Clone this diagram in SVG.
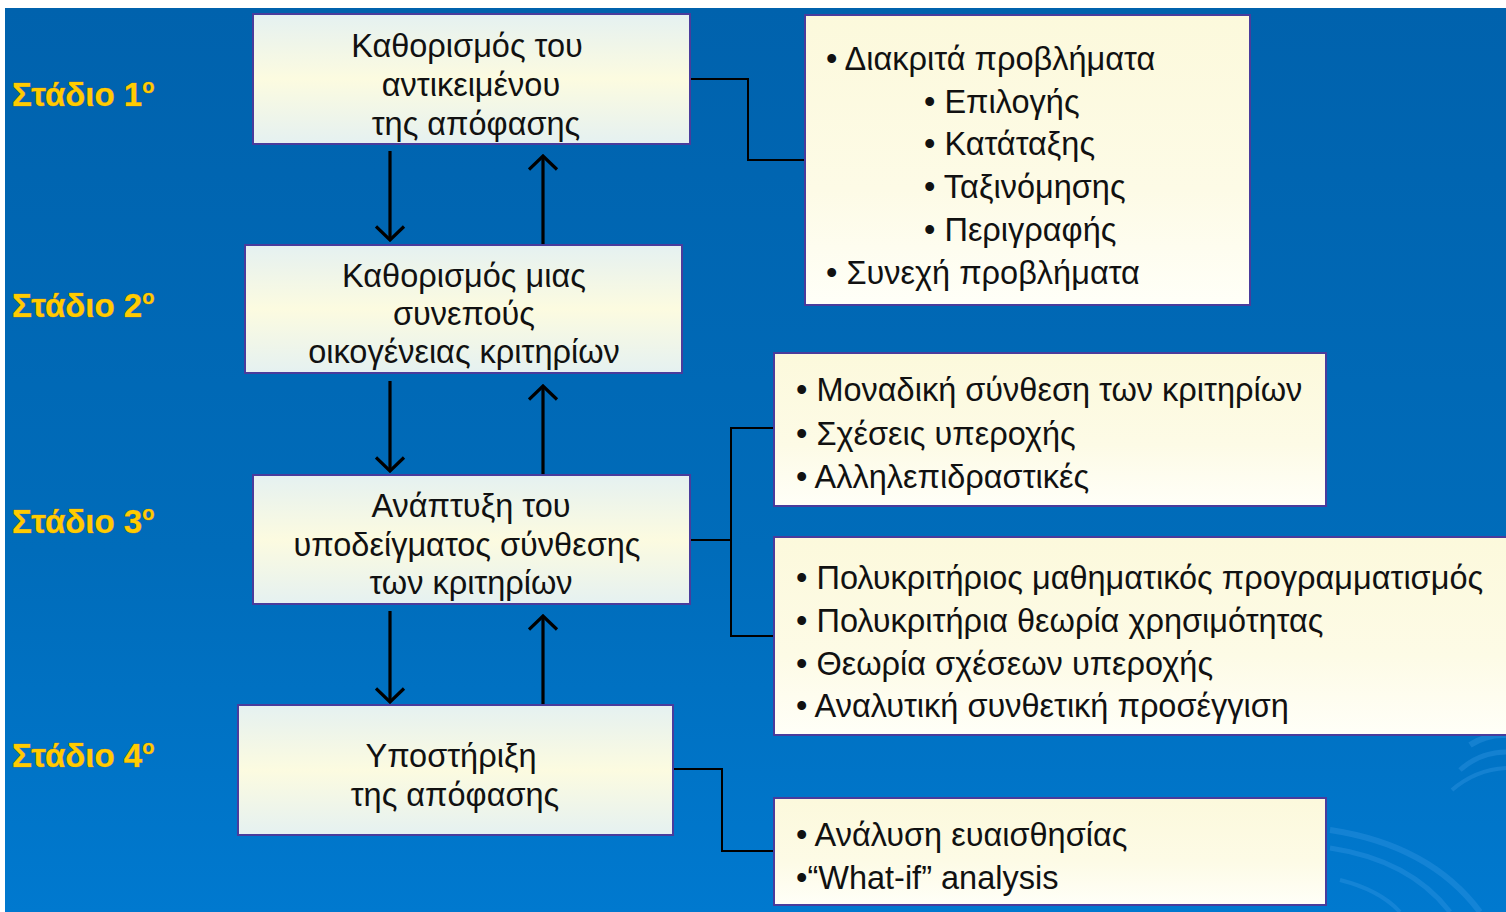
<svg xmlns="http://www.w3.org/2000/svg" width="1506" height="912" viewBox="0 0 1506 912">
  <defs>
    <linearGradient id="bg" x1="0" y1="0" x2="0" y2="1">
      <stop offset="0" stop-color="#0062ad"/>
      <stop offset="0.6" stop-color="#006cba"/>
      <stop offset="1" stop-color="#0079cf"/>
    </linearGradient>
    <linearGradient id="stageFill" x1="0" y1="0" x2="0" y2="1">
      <stop offset="0" stop-color="#e5f1f1"/>
      <stop offset="0.5" stop-color="#fcfbe0"/>
      <stop offset="1" stop-color="#e5f1f1"/>
    </linearGradient>
    <linearGradient id="noteFill" x1="0" y1="0" x2="0" y2="1">
      <stop offset="0" stop-color="#fcf9dc"/>
      <stop offset="0.6" stop-color="#fdfbe6"/>
      <stop offset="1" stop-color="#fffff8"/>
    </linearGradient>
    <!-- open chevron head, drawn pointing along +x -->
    <marker id="chev" viewBox="0 0 17 31" refX="15" refY="15.5" markerWidth="17" markerHeight="31" markerUnits="userSpaceOnUse" orient="auto">
      <path d="M1.5,1.5 L15,15.5 L1.5,29.5" fill="none" stroke="#000" stroke-width="3.2" stroke-linejoin="miter"/>
    </marker>
    <style>
      .stage { fill: url(#stageFill); stroke: #4a3c9c; stroke-width: 2; }
      .note { fill: url(#noteFill); stroke: #4a3c9c; stroke-width: 2; }
      .stxt { font-family: "Liberation Sans", Arial, sans-serif; font-size: 32.5px; fill: #111; text-anchor: middle; }
      .ntxt { font-family: "Liberation Sans", Arial, sans-serif; font-size: 32.5px; fill: #111; }
      .lbl { font-family: "Liberation Sans", Arial, sans-serif; font-weight: bold; font-size: 33px; fill: #ffcc00; stroke: #b4702a; stroke-width: 0.6; paint-order: stroke; }
      .link { fill: none; stroke: #000; stroke-width: 2; }
      .flow { fill: none; stroke: #000; stroke-width: 3.2; }
      .swirl { fill: none; stroke: #3a9ae6; stroke-opacity: 0.35; }
    </style>
  </defs>

  <!-- backdrop -->
  <rect x="0" y="0" width="1506" height="912" fill="#ffffff"/>
  <rect x="5" y="8" width="1501" height="904" fill="url(#bg)"/>
  <g id="decor">
    <path class="swirl" stroke-width="6" d="M1470,745 A60,60 0 0 1 1506,735"/>
    <path class="swirl" stroke-width="5" d="M1460,770 A70,70 0 0 1 1506,752"/>
    <path class="swirl" stroke-width="4" d="M1452,790 A90,90 0 0 1 1506,768"/>
    <path class="swirl" stroke-width="6" d="M1330,830 Q1430,845 1480,912"/>
    <path class="swirl" stroke-width="5" d="M1330,848 Q1410,860 1450,912"/>
    <path class="swirl" stroke-width="4" d="M1340,880 Q1380,890 1400,912"/>
  </g>

  <!-- stage labels -->
  <g id="labels">
    <text class="lbl" x="12" y="106">Στάδιο 1<tspan font-size="20" dy="-13">o</tspan></text>
    <text class="lbl" x="12" y="317">Στάδιο 2<tspan font-size="20" dy="-13">o</tspan></text>
    <text class="lbl" x="12" y="533">Στάδιο 3<tspan font-size="20" dy="-13">o</tspan></text>
    <text class="lbl" x="12" y="767">Στάδιο 4<tspan font-size="20" dy="-13">o</tspan></text>
  </g>

  <!-- connectors -->
  <g id="connectors">
    <line class="flow" x1="390" y1="151" x2="390" y2="240" marker-end="url(#chev)"/>
    <line class="flow" x1="543" y1="244" x2="543" y2="156" marker-end="url(#chev)"/>
    <line class="flow" x1="390" y1="381" x2="390" y2="471" marker-end="url(#chev)"/>
    <line class="flow" x1="543" y1="474" x2="543" y2="386" marker-end="url(#chev)"/>
    <line class="flow" x1="390" y1="611" x2="390" y2="702" marker-end="url(#chev)"/>
    <line class="flow" x1="543" y1="705" x2="543" y2="616" marker-end="url(#chev)"/>
    <path class="link" d="M690,79 H748 V160 H805"/>
    <path class="link" d="M690,540 H731"/>
    <path class="link" d="M774,428 H731 V636 H774"/>
    <path class="link" d="M673,769 H722 V851 H774"/>
  </g>

  <!-- stage 1 -->
  <g id="stage1">
    <rect class="stage" x="253" y="14" width="437" height="130"/>
    <text class="stxt" x="467" y="57">Καθορισμός του</text>
    <text class="stxt" x="471" y="96">αντικειμένου</text>
    <text class="stxt" x="476" y="135">της απόφασης</text>
  </g>

  <!-- stage 2 -->
  <g id="stage2">
    <rect class="stage" x="245" y="245" width="437" height="128"/>
    <text class="stxt" x="464" y="287">Καθορισμός μιας</text>
    <text class="stxt" x="464" y="325">συνεπούς</text>
    <text class="stxt" x="464" y="363">οικογένειας κριτηρίων</text>
  </g>

  <!-- stage 3 -->
  <g id="stage3">
    <rect class="stage" x="253" y="475" width="437" height="129"/>
    <text class="stxt" x="471" y="517">Ανάπτυξη του</text>
    <text class="stxt" x="467" y="556">υποδείγματος σύνθεσης</text>
    <text class="stxt" x="471" y="594">των κριτηρίων</text>
  </g>

  <!-- stage 4 -->
  <g id="stage4">
    <rect class="stage" x="238" y="705" width="435" height="130"/>
    <text class="stxt" x="451" y="767">Υποστήριξη</text>
    <text class="stxt" x="455" y="806">της απόφασης</text>
  </g>

  <!-- problem types -->
  <g id="problems">
    <rect class="note" x="805" y="15" width="445" height="290"/>
    <text class="ntxt" x="826" y="70">• Διακριτά προβλήματα</text>
    <text class="ntxt" x="924" y="113">• Επιλογής</text>
    <text class="ntxt" x="924" y="155">• Κατάταξης</text>
    <text class="ntxt" x="924" y="198">• Ταξινόμησης</text>
    <text class="ntxt" x="924" y="241">• Περιγραφής</text>
    <text class="ntxt" x="826" y="284">• Συνεχή προβλήματα</text>
  </g>

  <!-- aggregation forms -->
  <g id="aggregation">
    <rect class="note" x="774" y="353" width="552" height="153"/>
    <text class="ntxt" x="796" y="401">• Μοναδική σύνθεση των κριτηρίων</text>
    <text class="ntxt" x="796" y="445">• Σχέσεις υπεροχής</text>
    <text class="ntxt" x="796" y="488">• Αλληλεπιδραστικές</text>
  </g>

  <!-- methods -->
  <g id="methods">
    <rect class="note" x="774" y="537" width="740" height="198"/>
    <text class="ntxt" x="796" y="589">• Πολυκριτήριος μαθηματικός προγραμματισμός</text>
    <text class="ntxt" x="796" y="632">• Πολυκριτήρια θεωρία χρησιμότητας</text>
    <text class="ntxt" x="796" y="675">• Θεωρία σχέσεων υπεροχής</text>
    <text class="ntxt" x="796" y="717">• Αναλυτική συνθετική προσέγγιση</text>
  </g>

  <!-- decision support -->
  <g id="support">
    <rect class="note" x="774" y="798" width="552" height="107"/>
    <text class="ntxt" x="796" y="846">• Ανάλυση ευαισθησίας</text>
    <text class="ntxt" x="796" y="889">•“What-if” analysis</text>
  </g>
</svg>
